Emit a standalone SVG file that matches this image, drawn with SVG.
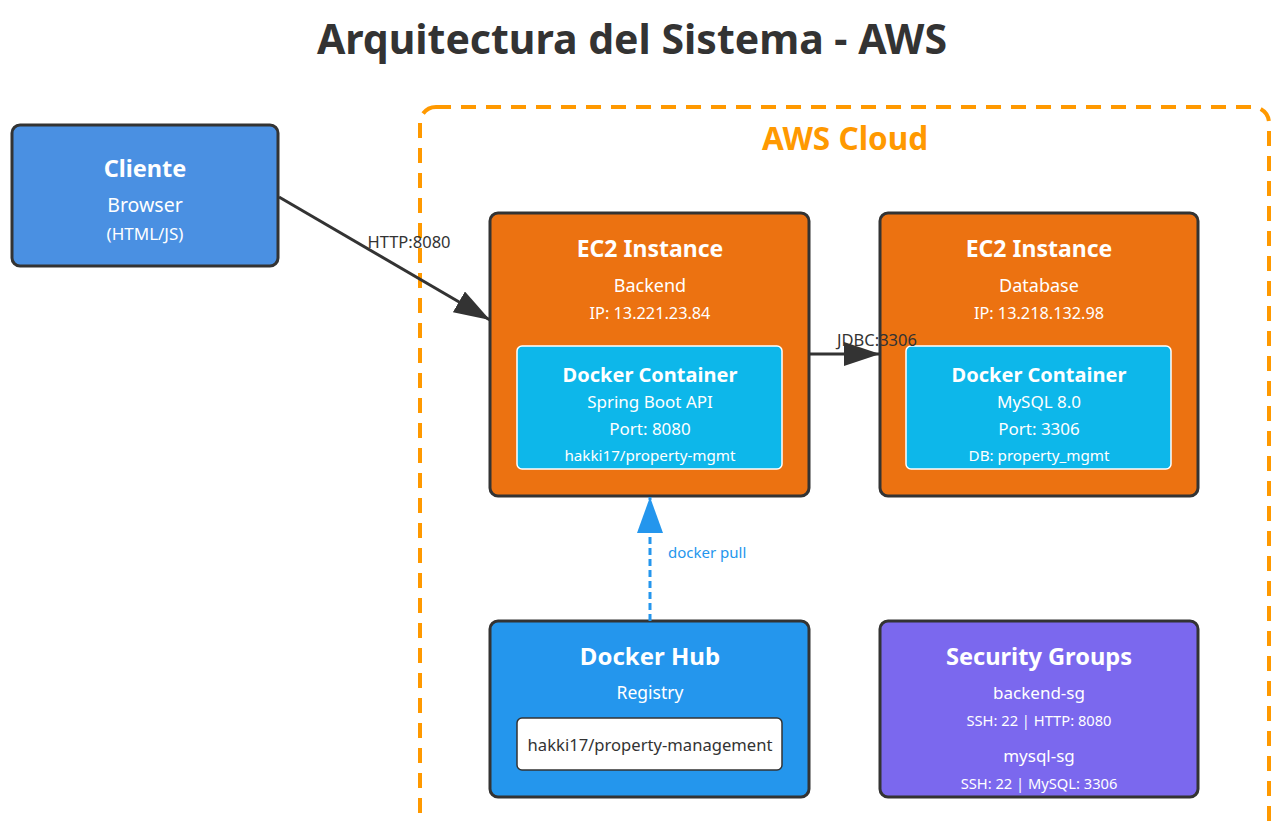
<svg xmlns="http://www.w3.org/2000/svg" width="1287" height="822" viewBox="0 0 1287 822">
<defs>
<style>
text{font-family:"Noto Sans","Liberation Sans",sans-serif;text-anchor:middle}
.w{fill:#fff}
.b{font-weight:bold}
.node{stroke:#333;stroke-width:3}
.inner{fill:#0DB7EA;stroke:#fff;stroke-width:1.5}
.lbl{fill:#333;font-size:16.5px}
</style>
<marker id="ah" markerUnits="userSpaceOnUse" markerWidth="36" markerHeight="24" refX="36" refY="12" orient="auto">
<path d="M0,0 L36,12 L0,24 Z" fill="#333"/>
</marker>
<marker id="ahb" markerUnits="userSpaceOnUse" markerWidth="36" markerHeight="26" refX="36" refY="13" orient="auto">
<path d="M0,0 L36,13 L0,26 Z" fill="#2496ED"/>
</marker>
</defs>
<rect width="1287" height="822" fill="#fff"/>
<text x="632" y="54" class="b" style="font-size:41px;fill:#333">Arquitectura del Sistema - AWS</text>

<g id="aws-cloud">
<rect x="420" y="107" width="849" height="760" rx="16" fill="none" stroke="#FF9900" stroke-width="4" stroke-dasharray="15,10"/>
<text x="845" y="150" class="b" style="font-size:31.5px;fill:#FF9900">AWS Cloud</text>
</g>

<g id="cliente">
<rect x="12" y="125" width="266" height="141" rx="8" fill="#4A90E2" class="node"/>
<text x="145" y="177" class="w b" style="font-size:23.5px">Cliente</text>
<text x="145" y="212" class="w" style="font-size:19.5px">Browser</text>
<text x="145" y="240" class="w" style="font-size:17px">(HTML/JS)</text>
</g>

<g id="ec2-backend">
<rect x="490" y="213" width="319" height="283" rx="8" fill="#EC7211" class="node"/>
<text x="650" y="257" class="w b" style="font-size:23px">EC2 Instance</text>
<text x="650" y="292" class="w" style="font-size:18px">Backend</text>
<text x="650" y="319" class="w" style="font-size:16.3px">IP: 13.221.23.84</text>
<g id="docker-backend">
<rect x="517" y="346" width="265" height="123" rx="5" class="inner"/>
<text x="650" y="382" class="w b" style="font-size:20px">Docker Container</text>
<text x="650" y="408" class="w" style="font-size:17px">Spring Boot API</text>
<text x="650" y="435" class="w" style="font-size:17px">Port: 8080</text>
<text x="650" y="461" class="w" style="font-size:15.2px">hakki17/property-mgmt</text>
</g>
</g>

<g id="ec2-database">
<rect x="880" y="213" width="318" height="283" rx="8" fill="#EC7211" class="node"/>
<text x="1039" y="257" class="w b" style="font-size:23px">EC2 Instance</text>
<text x="1039" y="292" class="w" style="font-size:18px">Database</text>
<text x="1039" y="319" class="w" style="font-size:16.3px">IP: 13.218.132.98</text>
<g id="docker-mysql">
<rect x="906" y="346" width="265" height="123" rx="5" class="inner"/>
<text x="1039" y="382" class="w b" style="font-size:20px">Docker Container</text>
<text x="1039" y="408" class="w" style="font-size:17px">MySQL 8.0</text>
<text x="1039" y="435" class="w" style="font-size:17px">Port: 3306</text>
<text x="1039" y="461" class="w" style="font-size:15.2px">DB: property_mgmt</text>
</g>
</g>

<g id="docker-hub">
<rect x="490" y="621" width="319" height="176" rx="8" fill="#2496ED" class="node"/>
<text x="650" y="665" class="w b" style="font-size:24px">Docker Hub</text>
<text x="650" y="699" class="w" style="font-size:17.5px">Registry</text>
<rect x="517" y="718" width="265" height="52" rx="5" fill="#fff" stroke="#333" stroke-width="1.5"/>
<text x="650" y="751" style="font-size:16.6px;fill:#333">hakki17/property-management</text>
</g>

<g id="security-groups">
<rect x="880" y="621" width="318" height="176" rx="8" fill="#7B68EE" class="node"/>
<text x="1039" y="665" class="w b" style="font-size:23.6px">Security Groups</text>
<text x="1039" y="699" class="w" style="font-size:17px">backend-sg</text>
<text x="1039" y="726" class="w" style="font-size:14.7px">SSH: 22 | HTTP: 8080</text>
<text x="1039" y="762" class="w" style="font-size:17px">mysql-sg</text>
<text x="1039" y="789" class="w" style="font-size:14.7px">SSH: 22 | MySQL: 3306</text>
</g>

<g id="connectors">
<line x1="279" y1="197" x2="490" y2="320" stroke="#333" stroke-width="3" marker-end="url(#ah)"/>
<text x="409" y="248" class="lbl">HTTP:8080</text>
<line x1="810" y1="354" x2="880" y2="354" stroke="#333" stroke-width="3" marker-end="url(#ah)"/>
<text x="877" y="346" class="lbl">JDBC:3306</text>
<line x1="650" y1="621" x2="650" y2="497" stroke="#2496ED" stroke-width="3" stroke-dasharray="7,4" marker-end="url(#ahb)"/>
<text x="668" y="558" style="font-size:15px;fill:#2496ED;text-anchor:start">docker pull</text>
</g>
</svg>
